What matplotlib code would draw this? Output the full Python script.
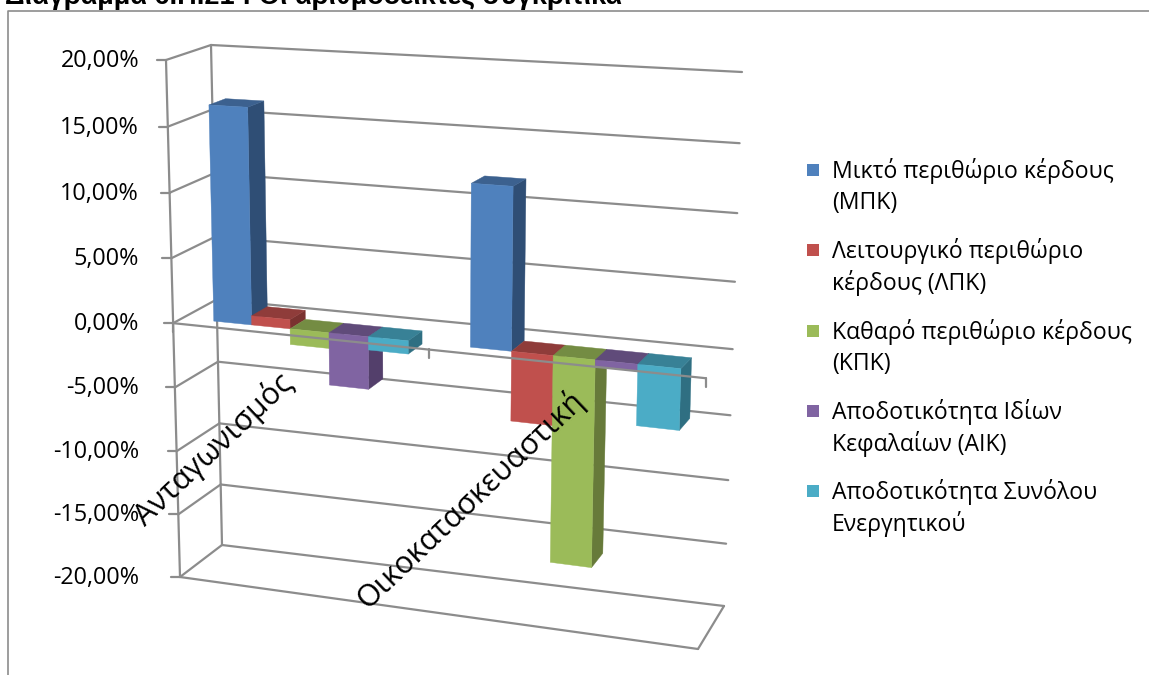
import matplotlib
matplotlib.use("Agg")
import matplotlib.pyplot as plt
from matplotlib.patches import Polygon, Rectangle
import numpy as np

categories = ["Ανταγωνισμός", "Οικοκατασκευαστική"]
series_names = ["Μικτό περιθώριο κέρδους\n(ΜΠΚ)",
                "Λειτουργικό περιθώριο\nκέρδους (ΛΠΚ)",
                "Καθαρό περιθώριο κέρδους\n(ΚΠΚ)",
                "Αποδοτικότητα Ιδίων\nΚεφαλαίων (ΑΙΚ)",
                "Αποδοτικότητα Συνόλου\nΕνεργητικού"]
mpk = [16.5, 12.0]
lpk = [0.7, -5.2]
kpk = [-1.2, -15.6]
aik = [-4.0, -0.5]
asy = [-1.0, -4.5]
yticks = [20, 15, 10, 5, 0, -5, -10, -15, -20]
title = "Διάγραμμα 6.Π.21 : Οι αριθμοδείκτες συγκριτικά"

front = ["#4F81BD", "#C0504D", "#9BBB59", "#8064A2", "#4BACC6"]
tops = ["#3C618F", "#8F3C3A", "#748C43", "#604B7A", "#388196"]
sides = ["#2F4E75", "#7A3230", "#677A3A", "#533F6B", "#2F6F82"]
grid = "#8c8c8c"

# corners of the 3d box in pixels (front/back, left/right, top/bottom)
FL = np.array([[166, 60], [180, 577]], float)
FR = np.array([[714, 86], [698, 649]], float)
BL = np.array([[211, 45], [222, 545]], float)
BR = np.array([[742, 72], [724, 606]], float)


def proj(s, v, d):
    # s = category position 0..2, v = value in %, d = depth 0..1
    u = 0.46 * s + 0.02 * s * s
    w = (20 - v) / 40.0
    k = 0.036 * (1 - u) + 0.076 * u  # perspective bends the value axis, more on the right
    t = (1 + k) * w - k * w * w
    fl = FL[0] * (1 - t) + FL[1] * t
    fr = FR[0] * (1 - t) + FR[1] * t
    bl = BL[0] * (1 - t) + BL[1] * t
    br = BR[0] * (1 - t) + BR[1] * t
    f = fl * (1 - u) + fr * u
    b = bl * (1 - u) + br * u
    return f * (1 - d) + b * d


fig = plt.figure(figsize=(11.49, 6.75), dpi=100)
ax = fig.add_axes([0, 0, 1, 1])
ax.set_xlim(0, 1149)
ax.set_ylim(675, 0)
ax.axis("off")

# outer frame of the chart
ax.plot([8, 8, 1149], [675, 11, 11], color="#8c8c8c", lw=1.2, zorder=1)
ax.text(5, 4.5, title, fontfamily="Liberation Sans", fontweight="bold", fontsize=19.5,
        color="black", ha="left", va="baseline", clip_on=False)


def line(p, q, z=2, lw=1.6):
    ax.plot([p[0], q[0]], [p[1], q[1]], color=grid, lw=lw, zorder=z, solid_capstyle="round")


# walls
for v in yticks:
    line(proj(0, v, 1), proj(2, v, 1))
    line(proj(0, v, 0), proj(0, v, 1))
    p = proj(0, v, 0)
    line(p, p + [-9, 0])
    ax.text(139, p[1] + 1, ("%.2f" % v).replace(".", ",") + "%",
            fontfamily="Open Sans", fontsize=16.8, ha="right", va="center", color="black", zorder=6)
line(proj(0, 20, 0), proj(0, -20, 0))
line(proj(0, -20, 1), proj(0, 20, 1))
# floor
line(proj(0, -20, 0), proj(2, -20, 0))
line(proj(2, -20, 0), proj(2, -20, 1))

# bars
values = [mpk, lpk, kpk, aik, asy]
d0 = 0.22
d1 = 0.6
bar_w = 0.153
start = 0.127
z = 3.0
for g in range(len(categories)):
    for i in range(len(values)):
        val = values[i][g]
        s0 = g + start + i * bar_w
        s1 = s0 + bar_w
        hi = max(val, 0)
        lo = min(val, 0)
        z += 0.01
        ax.add_patch(Polygon([proj(s1, hi, d0), proj(s1, hi, d1), proj(s1, lo, d1), proj(s1, lo, d0)],
                             closed=True, fc=sides[i], ec=sides[i], lw=0.3, zorder=z))
        ax.add_patch(Polygon([proj(s0, hi, d0), proj(s0, hi, d1), proj(s1, hi, d1), proj(s1, hi, d0)],
                             closed=True, fc=tops[i], ec=tops[i], lw=0.3, zorder=z))
        ax.add_patch(Polygon([proj(s0, hi, d0), proj(s1, hi, d0), proj(s1, lo, d0), proj(s0, lo, d0)],
                             closed=True, fc=front[i], ec=front[i], lw=0.3, zorder=z))

# category axis on top of the bars
line(proj(0, 0, 0), proj(2, 0, 0), z=5)
for s in [0, 1, 2]:
    p = proj(s, 0, 0)
    line(p, p + [0, 9], z=5)

# category labels
label_pos = [(145, 527), (367, 610)]
for name, pos in zip(categories, label_pos):
    ax.text(pos[0], pos[1], name, rotation=43.5, rotation_mode="anchor", fontfamily="Open Sans",
            fontsize=22, ha="left", va="baseline", color="black", zorder=6)

# legend
legend_y = [170, 250, 331, 411, 491]
for name, c, y in zip(series_names, front, legend_y):
    ax.add_patch(Rectangle((807, y - 6), 12, 12, fc=c, ec="none", zorder=6))
    first, second = name.split("\n")
    ax.text(832, y + 1, first, fontfamily="Open Sans", fontsize=16.6, va="center", ha="left")
    ax.text(832, y + 33, second, fontfamily="Open Sans", fontsize=16.6, va="center", ha="left")

fig.savefig("out.png", dpi=100)
